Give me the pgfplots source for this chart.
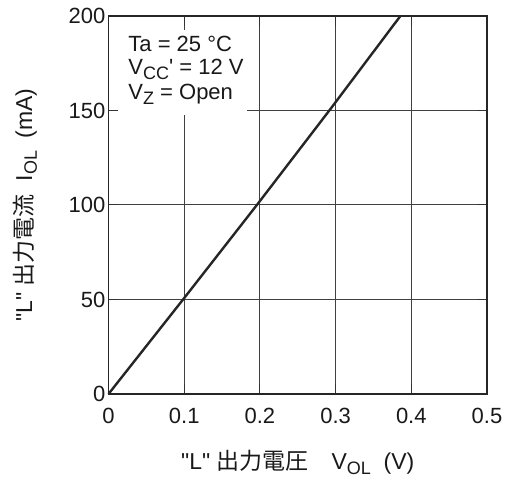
\documentclass[border=0pt]{standalone}
\usepackage{pgfplots}
\pgfplotsset{compat=1.18}
\usepackage{fontspec}
\setmainfont{Liberation Sans}
\newfontfamily\cjk{Noto Sans CJK JP}
\newcommand\sub[1]{\raisebox{-0.4ex}{\fontsize{9}{10}\selectfont #1}}
\newcommand\q{\textquotedbl}
\begin{document}
\begin{tikzpicture}
\begin{axis}[
  scale only axis,
  width=189.25pt, height=189pt,
  xmin=0, xmax=0.5, ymin=0, ymax=200,
  xtick={0,0.1,0.2,0.3,0.4,0.5},
  xticklabels={0,0.1,0.2,0.3,0.4,0.5},
  ytick={0,50,100,150,200},
  tick align=inside,
  major tick length=5pt,
  tick style={black!80, line width=0.5pt},
  grid=major,
  major grid style={black!75, line width=0.5pt},
  axis line style={black!85, line width=0.8pt},
  /pgf/number format/assume math mode=true,
  tick label style={font=\fontsize{11}{13}\selectfont, text=black!90},
  yticklabel style={xshift=2pt},
  xticklabel style={yshift=-3.5pt},
  label style={font=\fontsize{11.5}{13}\selectfont, text=black!90},
  xlabel={\q L\q\ {\cjk 出力電圧}\quad V\sub{OL}\ \ (V)},
  ylabel={\q L\q\ {\cjk 出力電流}\ \ I\sub{OL}\ \ (mA)},
  xlabel style={at={(axis description cs:0.5,-0.201)}, anchor=base},
  ylabel style={at={(axis description cs:-0.202,0.5)}, anchor=base},
  clip=false,
]
\addplot[black!85, line width=1.2pt] coordinates {(0,0) (0.0985,50) (0.196,100) (0.2917,150) (0.3856,200)};
\fill[white] (axis cs:0.0126,192.6) rectangle (axis cs:0.183,147.6);
\node[anchor=base west, inner sep=0, font=\fontsize{11}{13}\selectfont, text=black!90] at (axis cs:0.0258,181) {Ta = 25 °C};
\node[anchor=base west, inner sep=0, font=\fontsize{11}{13}\selectfont, text=black!90] at (axis cs:0.0258,168.8) {V\sub{CC}\textquotesingle\ = 12 V};
\node[anchor=base west, inner sep=0, font=\fontsize{11}{13}\selectfont, text=black!90] at (axis cs:0.0258,155.6) {V\sub{Z} = Open};
\coordinate (ll) at (rel axis cs:0,0);
\coordinate (ur) at (rel axis cs:1,1);
\end{axis}
\pgfresetboundingbox
\path ([shift={(-54.25pt,-43pt)}]ll) rectangle ([shift={(11pt,8pt)}]ur);
\end{tikzpicture}
\end{document}
